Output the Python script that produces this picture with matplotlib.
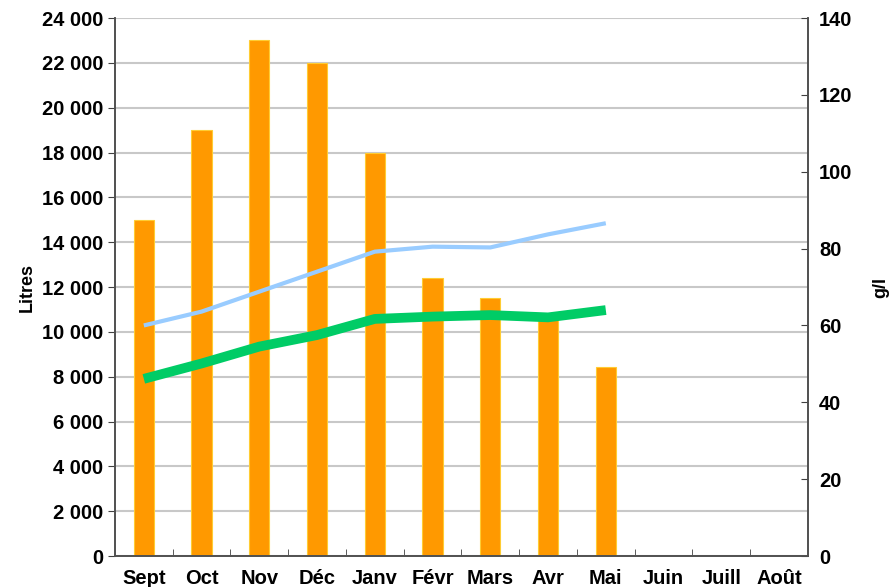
import numpy as np
import matplotlib.pyplot as plt
from matplotlib.ticker import FuncFormatter, MultipleLocator, FixedLocator

plt.rcParams['font.family'] = ['Liberation Sans', 'DejaVu Sans']
plt.rcParams['font.weight'] = 'bold'

# Monthly data
months = ['Sept', 'Oct', 'Nov', 'Déc', 'Janv', 'Févr', 'Mars', 'Avr', 'Mai',
          'Juin', 'Juill', 'Août']
litres = [15000, 19000, 23000, 22000, 18000, 12400, 11500, 10600, 8450]
conc_blue = [60.0, 63.6, 68.8, 74.0, 79.2, 80.5, 80.3, 83.7, 86.6]
conc_green = [46.1, 50.1, 54.5, 57.5, 61.7, 62.3, 62.7, 62.1, 64.0]

fig = plt.figure(figsize=(8.96, 5.87), dpi=100)
ax = fig.add_axes([0.1283, 0.0528, 0.7734, 0.9165])
ax2 = ax.twinx()

x = np.arange(len(months))
n = len(litres)

ax.bar(x[:n], litres, width=0.35, color='#FF9900', edgecolor='#FFCC33',
       linewidth=0.8, zorder=2)
ax.set_ylim(0, 24000)
ax.set_xlim(-0.5, len(months) - 0.5)
ax.yaxis.set_major_locator(MultipleLocator(2000))
ax.yaxis.set_major_formatter(FuncFormatter(lambda v, p: f'{int(v):,}'.replace(',', ' ')))
ax.grid(axis='y', color='#C8C8C8', linewidth=1.5, zorder=0)
ax.set_axisbelow(True)

ax.set_xticks(x)
ax.set_xticklabels(months)
ax.tick_params(axis='x', which='major', length=0, labelsize=14.5, pad=9)
ax.xaxis.set_minor_locator(FixedLocator(x[:-1] + 0.5))
ax.tick_params(axis='x', which='minor', direction='in', length=5, color='#404040')
ax.tick_params(axis='y', direction='out', length=5, labelsize=14.5, color='#404040')
ax.set_ylabel('Litres', fontsize=13, fontweight='bold', labelpad=4)

# Concentration lines on the right axis
ax2.plot(x[:n], conc_blue, color='#99CCFF', linewidth=3, solid_capstyle='butt', zorder=3)
ax2.plot(x[:n], conc_green, color='#00CC66', linewidth=7, solid_capstyle='butt', zorder=4)
ax2.set_ylim(0, 140)
ax2.yaxis.set_major_locator(MultipleLocator(20))
ax2.tick_params(axis='y', direction='in', length=5, labelsize=14.5, pad=8, color='#404040')
ax2.set_ylabel('g/l', fontsize=13, fontweight='bold', rotation=90, labelpad=14)

for a in (ax, ax2):
    a.spines['top'].set_visible(False)
    for s in ('left', 'right', 'bottom'):
        a.spines[s].set_color('#505050')
        a.spines[s].set_linewidth(1.2)

fig.savefig('out.png', dpi=100)
